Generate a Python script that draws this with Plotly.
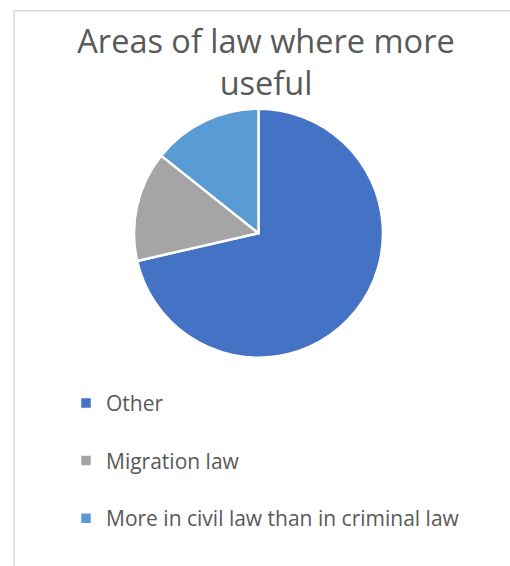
import plotly.graph_objects as go

categories = ["Other", "Migration law", "More in civil law than in criminal law"]
values = [5, 1, 1]
colors = ["#4472C4", "#A5A5A5", "#5B9BD5"]
title_text = "Areas of law where more<br>useful"

W, H = 510, 566
cx, cy, r = 258.5, 237, 126.5

fig = go.Figure(go.Pie(
    labels=[c + "<br> " for c in categories],
    values=values,
    sort=False,
    direction="clockwise",
    rotation=0,
    marker=dict(colors=colors, line=dict(color="white", width=2.5)),
    textinfo="none",
    hoverinfo="label+percent",
    domain=dict(x=[(cx - r) / W, (cx + r) / W], y=[1 - (cy + r) / H, 1 - (cy - r) / H]),
))

fig.update_layout(
    width=W, height=H,
    margin=dict(l=0, r=0, t=0, b=0),
    paper_bgcolor="white",
    font=dict(family="Open Sans", color="#595959"),
    title=dict(text=title_text, x=266 / W, xanchor="center", y=1 - 53 / H, yanchor="top",
               yref="container", font=dict(size=32.5, color="#595959", family="Open Sans")),
    showlegend=True,
    legend=dict(x=66 / W, xanchor="left", y=1 - 389 / H, yanchor="top",
                font=dict(size=21, color="#595959"), valign="top",
                bgcolor="rgba(0,0,0,0)"),
    shapes=[dict(type="rect", xref="paper", yref="paper", x0=14 / W, x1=1.05, y0=-0.05, y1=1 - 11 / H,
                 line=dict(color="#D9D9D9", width=1.5), fillcolor="rgba(0,0,0,0)", layer="below")],
)

fig.write_html("out.html", config={"displayModeBar": False},
               post_script="document.body.style.margin='0';")
